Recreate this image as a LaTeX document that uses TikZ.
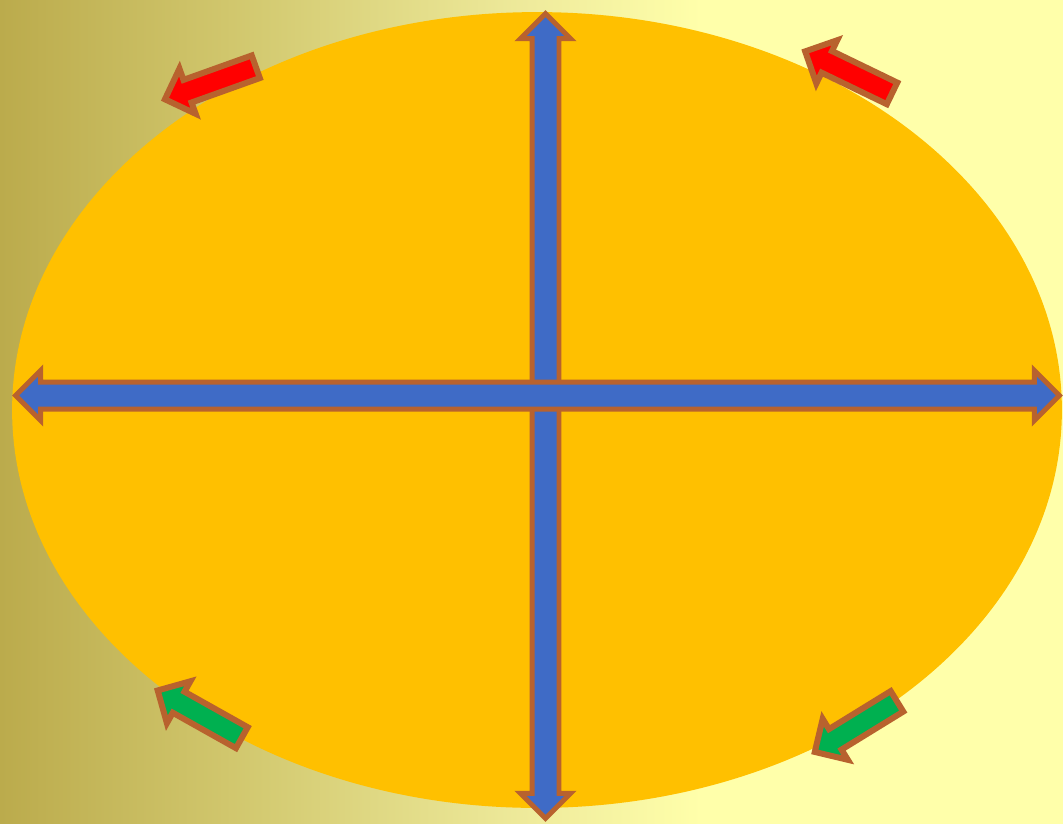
\documentclass[tikz,border=0pt]{standalone}
\usetikzlibrary{shapes.arrows}
\definecolor{sunorange}{HTML}{FFC000}
\definecolor{rimbrown}{HTML}{B8622E}
\definecolor{axisblue}{HTML}{3F6BC6}
\definecolor{tipred}{HTML}{FF0000}
\definecolor{tipgreen}{HTML}{00B050}
\definecolor{bgA}{HTML}{BBAB4C}
\definecolor{bgB}{HTML}{D4CB72}
\definecolor{bgC}{HTML}{EFEB9C}
\definecolor{bgD}{HTML}{FFFFAA}
\pgfdeclarehorizontalshading{bgfade}{100bp}{color(0bp)=(bgA); color(25bp)=(bgA);
  color(37.5bp)=(bgB); color(50bp)=(bgC); color(58bp)=(bgD); color(100bp)=(bgD)}
\tikzset{small arrow/.style = {single arrow, draw=rimbrown, line width=0.12cm,
                               inner xsep=0pt, inner ysep=0.18cm,
                               single arrow head extend=0.24cm,
                               minimum height=1.93cm}}
\tikzset{axis arrow/.style = {double arrow, draw=rimbrown, fill=axisblue, line width=0.1cm,
                              inner xsep=0pt, inner ysep=0.22cm,
                              double arrow head extend=0.23cm}}
\begin{document}
\begin{tikzpicture}[x=0.02cm, y=-0.02cm]
      \shade[shading=bgfade] (0,0) rectangle (1063,823);
      \useasboundingbox (0,0) rectangle (1063,823);
      \fill[sunorange] (537,410) ellipse [x radius=10.5cm, y radius=7.96cm];
      \node[axis arrow, minimum height=16.1cm, rotate=90] (vert) at (545.5,416) {};
      \node[axis arrow, minimum height=20.88cm] (horiz) at (537.5,395.5) {};
      \node[small arrow, fill=tipred, rotate=199.7] (redL) at (216,81) {};
      \node[small arrow, fill=tipred, rotate=154.2] (redR) at (854,75) {};
      \node[small arrow, fill=tipgreen, rotate=150.7] (greenL) at (205,717) {};
      \node[small arrow, fill=tipgreen, rotate=211.6] (greenR) at (861,723.5) {};
    \end{tikzpicture}
\end{document}
